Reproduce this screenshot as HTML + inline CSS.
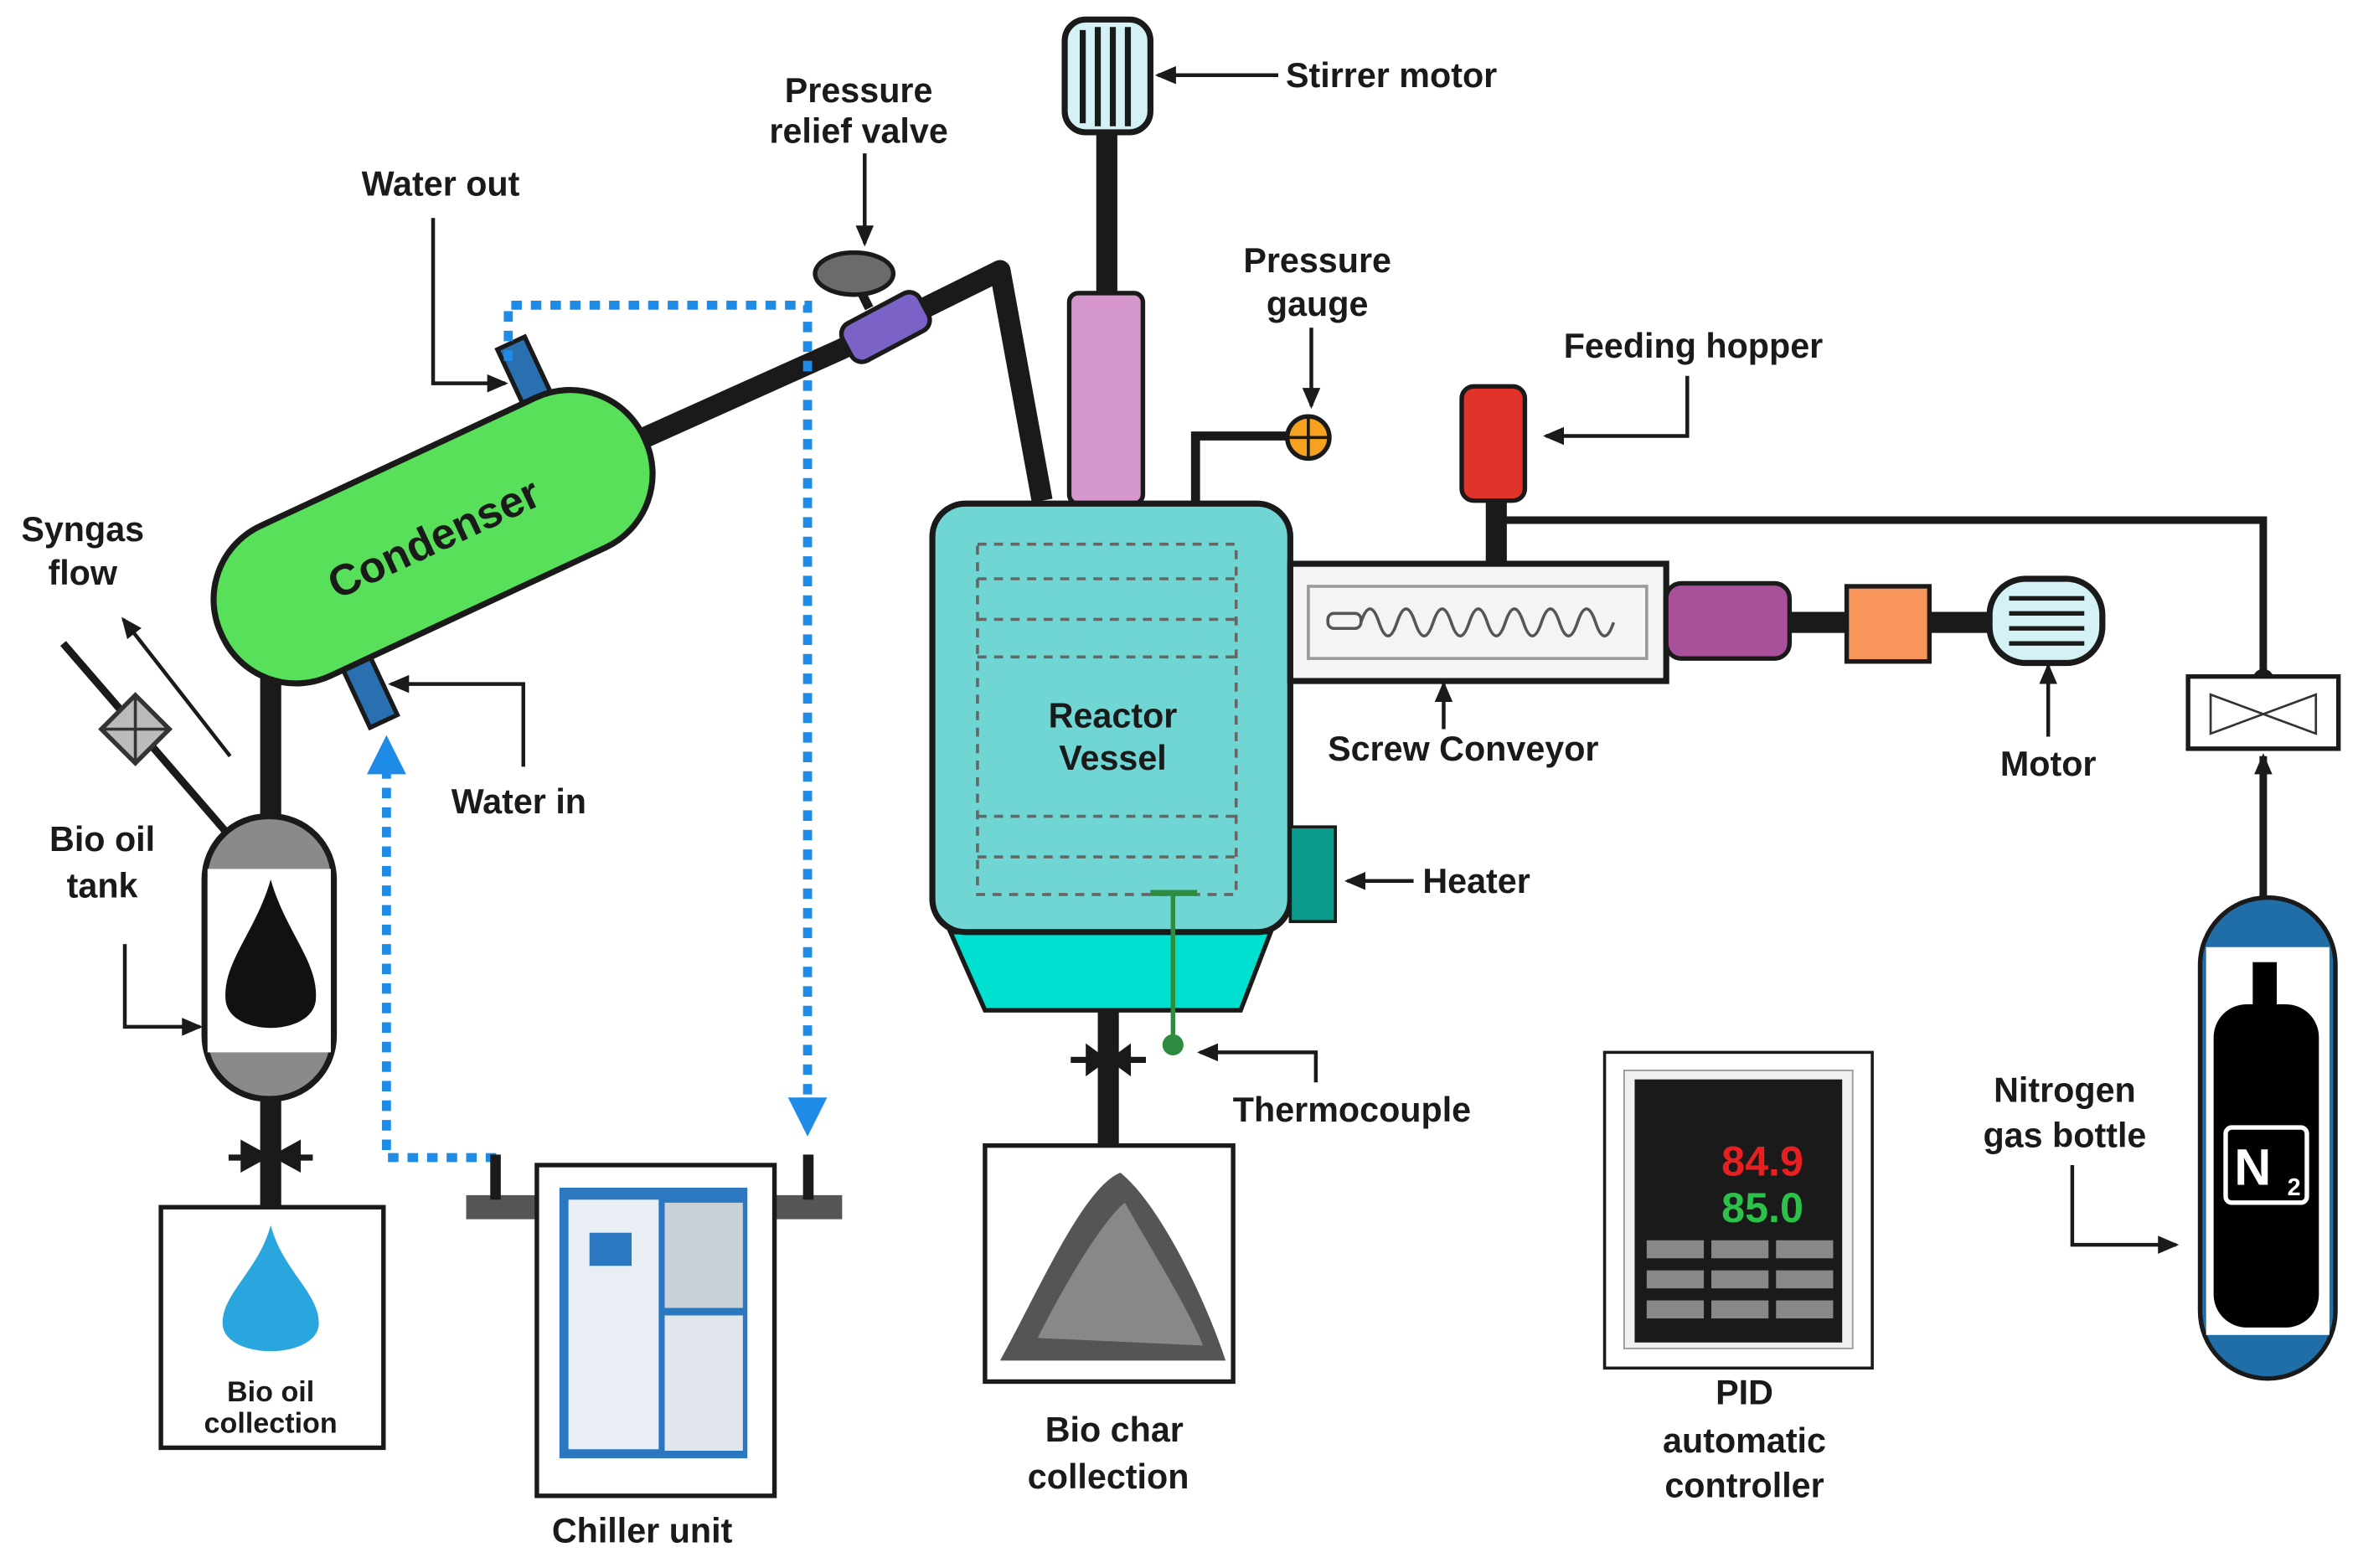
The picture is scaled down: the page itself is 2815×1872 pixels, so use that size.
<!DOCTYPE html>
<html><head><meta charset="utf-8"><style>
html,body{margin:0;padding:0;background:#fff;}
svg{display:block;}
text{font-family:"Liberation Sans",sans-serif;font-weight:bold;fill:#1a1a1a;}
</style></head><body>
<svg width="2815" height="1872" viewBox="0 0 1568 1043" preserveAspectRatio="none" xmlns="http://www.w3.org/2000/svg">
<defs>
<marker id="ah" markerWidth="14" markerHeight="12" refX="12" refY="6" orient="auto" markerUnits="userSpaceOnUse"><path d="M0,0 L14,6 L0,12 Z" fill="#1a1a1a"/></marker>
<marker id="bh" markerWidth="26" markerHeight="26" refX="20" refY="13" orient="auto" markerUnits="userSpaceOnUse"><path d="M0,0 L26,13 L0,26 Z" fill="#1e8ce6"/></marker>
</defs>
<rect width="1568" height="1043" fill="#fff"/>

<!-- pipes -->
<g stroke="#1a1a1a" stroke-width="14" fill="none" stroke-linejoin="round">
<polyline points="420,295 560,232 665,180 693,333"/>
<line x1="736" y1="88" x2="736" y2="197"/>
<line x1="180" y1="440" x2="180" y2="548"/>
<line x1="180" y1="728" x2="180" y2="805"/>
<line x1="737" y1="668" x2="737" y2="764"/>
<line x1="995" y1="332" x2="995" y2="377"/>
<line x1="1190" y1="414" x2="1230" y2="414"/>
<line x1="1283" y1="414" x2="1325" y2="414"/>
</g>
<polyline points="795,334 795,290 858,290" stroke="#1a1a1a" stroke-width="6" fill="none"/>
<polyline points="1000,346 1505,346 1505,452" stroke="#1a1a1a" stroke-width="5" fill="none"/>
<circle cx="1505" cy="452" r="7" fill="#1a1a1a"/>

<!-- stirrer motor -->
<rect x="708" y="13" width="57" height="75" rx="14" fill="#d4f2f6" stroke="#1a1a1a" stroke-width="4"/>
<g stroke="#1a1a1a" stroke-width="4"><line x1="720" y1="20" x2="720" y2="82"/><line x1="730" y1="18" x2="730" y2="84"/><line x1="740" y1="18" x2="740" y2="84"/><line x1="750" y1="18" x2="750" y2="84"/></g>
<rect x="711" y="195" width="49" height="140" rx="6" fill="#d698cc" stroke="#1a1a1a" stroke-width="3"/>

<!-- relief valve -->
<g transform="rotate(-28 588 218)"><rect x="560" y="204" width="58" height="28" rx="8" fill="#7a62c6" stroke="#1a1a1a" stroke-width="3"/></g>
<line x1="568" y1="185" x2="578" y2="205" stroke="#1a1a1a" stroke-width="6"/>
<ellipse cx="568" cy="182" rx="26" ry="14" fill="#6b6b6b" stroke="#1a1a1a" stroke-width="3"/>

<!-- condenser tubes -->
<g transform="rotate(-25 350 250)"><rect x="340" y="226" width="20" height="48" fill="#2a6fb0" stroke="#1a1a1a" stroke-width="3"/></g>
<g transform="rotate(-25 245 458)"><rect x="235" y="434" width="20" height="48" fill="#2a6fb0" stroke="#1a1a1a" stroke-width="3"/></g>
<!-- condenser -->
<g transform="rotate(-25 288 357)">
<rect x="133" y="302" width="310" height="110" rx="54" fill="#58e05a" stroke="#1a1a1a" stroke-width="4"/>
<text x="288" y="368" font-size="29" text-anchor="middle">Condenser</text>
</g>

<!-- coolant dotted -->
<g stroke="#1e8ce6" stroke-width="6" fill="none" stroke-dasharray="7,6">
<polyline points="338,240 338,203 537,203 537,750" marker-end="url(#bh)"/>
<polyline points="330,770 257,770 257,495" marker-end="url(#bh)"/>
</g>

<!-- syngas -->
<line x1="42" y1="428" x2="150" y2="553" stroke="#1a1a1a" stroke-width="5"/>
<g transform="rotate(45 90 485)"><rect x="74" y="469" width="32" height="32" fill="#bbb" stroke="#333" stroke-width="3"/><line x1="74" y1="469" x2="106" y2="501" stroke="#333" stroke-width="2"/><line x1="106" y1="469" x2="74" y2="501" stroke="#333" stroke-width="2"/></g>
<line x1="153" y1="503" x2="82" y2="412" stroke="#1a1a1a" stroke-width="2.5" marker-end="url(#ah)"/>

<!-- bio oil tank -->
<rect x="136" y="543" width="86" height="188" rx="42" fill="#8a8a8a" stroke="#1a1a1a" stroke-width="4"/>
<rect x="138" y="578" width="82" height="122" fill="#fff"/>
<path d="M180,585 C170,620 148,640 150,665 C152,690 208,690 210,665 C212,640 190,620 180,585 Z" fill="#111"/>
<path d="M152,770 L208,770" stroke="#1a1a1a" stroke-width="4"/>
<path d="M160,758 L200,780 L200,758 L160,780 Z" fill="#1a1a1a"/>
<rect x="107" y="803" width="148" height="160" fill="#fff" stroke="#1a1a1a" stroke-width="3"/>
<path d="M180,815 C172,845 148,860 148,880 C148,905 212,905 212,880 C212,860 188,845 180,815 Z" fill="#2aa6de"/>
<text x="180" y="932" font-size="19" font-weight="normal" text-anchor="middle">Bio oil</text>
<text x="180" y="953" font-size="19" font-weight="normal" text-anchor="middle">collection</text>

<!-- chiller -->
<rect x="310" y="795" width="47" height="16" fill="#555"/>
<rect x="515" y="795" width="45" height="16" fill="#555"/>
<rect x="326" y="768" width="7" height="30" fill="#1a1a1a"/><rect x="534" y="768" width="7" height="30" fill="#1a1a1a"/>
<rect x="357" y="775" width="158" height="220" fill="#fff" stroke="#1a1a1a" stroke-width="3"/>
<rect x="372" y="790" width="125" height="180" fill="#2b78c0"/>
<rect x="378" y="798" width="60" height="166" fill="#e8eef4"/>
<rect x="442" y="800" width="52" height="70" fill="#c8d0d8"/>
<rect x="442" y="875" width="52" height="90" fill="#e0e6ec"/>
<rect x="392" y="820" width="28" height="22" fill="#2b78c0"/>

<!-- reactor -->
<polygon points="632,620 845,620 825,672 655,672" fill="#00e0d0" stroke="#1a1a1a" stroke-width="3"/>
<rect x="620" y="335" width="238" height="285" rx="22" fill="#70d6d4" stroke="#1a1a1a" stroke-width="4"/>
<g stroke="#666" stroke-width="2" stroke-dasharray="6,5" fill="none">
<rect x="650" y="362" width="172" height="233"/>
<line x1="650" y1="385" x2="822" y2="385"/><line x1="650" y1="412" x2="822" y2="412"/><line x1="650" y1="437" x2="822" y2="437"/>
<line x1="650" y1="543" x2="822" y2="543"/><line x1="650" y1="570" x2="822" y2="570"/>
</g>
<text x="740" y="484" font-size="23" text-anchor="middle">Reactor</text>
<text x="740" y="512" font-size="23" text-anchor="middle">Vessel</text>
<line x1="765" y1="594" x2="796" y2="594" stroke="#2e8b40" stroke-width="4"/>
<line x1="780" y1="594" x2="780" y2="692" stroke="#2e8b40" stroke-width="3"/>
<circle cx="780" cy="695" r="7" fill="#2e8b40"/>
<rect x="858" y="550" width="30" height="63" fill="#0a9a8c" stroke="#1a1a1a" stroke-width="2"/>
<path d="M712,705 L762,705" stroke="#1a1a1a" stroke-width="4"/>
<path d="M722,694 L752,716 L752,694 L722,716 Z" fill="#1a1a1a"/>
<rect x="655" y="762" width="165" height="157" fill="#fff" stroke="#1a1a1a" stroke-width="3"/>
<path d="M665,905 C690,860 720,790 745,780 C770,800 800,860 815,905 Z" fill="#555"/>
<path d="M690,890 C710,850 735,810 748,800 C765,830 790,870 800,895 Z" fill="#888"/>

<!-- gauge -->
<circle cx="870" cy="291" r="14" fill="#f7a21e" stroke="#1a1a1a" stroke-width="3"/>
<line x1="856" y1="291" x2="884" y2="291" stroke="#1a1a1a" stroke-width="2"/><line x1="870" y1="277" x2="870" y2="305" stroke="#1a1a1a" stroke-width="2"/>

<!-- screw conveyor -->
<rect x="858" y="375" width="250" height="78" fill="#f4f4f4" stroke="#1a1a1a" stroke-width="4"/>
<rect x="870" y="390" width="225" height="48" fill="none" stroke="#999" stroke-width="2"/>
<path d="M905,414 q6,-18 12,0 q6,18 12,0 q6,-18 12,0 q6,18 12,0 q6,-18 12,0 q6,18 12,0 q6,-18 12,0 q6,18 12,0 q6,-18 12,0 q6,18 12,0 q6,-18 12,0 q6,18 12,0 q6,-18 12,0 q6,18 12,0" stroke="#555" stroke-width="2" fill="none"/>
<rect x="883" y="408" width="22" height="10" rx="4" fill="none" stroke="#555" stroke-width="2"/>
<rect x="972" y="257" width="42" height="76" rx="8" fill="#e0332a" stroke="#1a1a1a" stroke-width="3"/>
<rect x="1108" y="388" width="82" height="50" rx="10" fill="#a8519a" stroke="#1a1a1a" stroke-width="3"/>
<rect x="1228" y="390" width="55" height="50" fill="#f7955a" stroke="#1a1a1a" stroke-width="3"/>
<rect x="1323" y="385" width="75" height="56" rx="24" fill="#d4f2f6" stroke="#1a1a1a" stroke-width="4"/>
<g stroke="#1a1a1a" stroke-width="3"><line x1="1336" y1="398" x2="1386" y2="398"/><line x1="1336" y1="408" x2="1386" y2="408"/><line x1="1336" y1="418" x2="1386" y2="418"/><line x1="1336" y1="428" x2="1386" y2="428"/></g>
<rect x="1455" y="450" width="100" height="48" fill="#fff" stroke="#1a1a1a" stroke-width="3"/>
<path d="M1470,462 L1540,488 L1540,462 L1470,488 Z" fill="none" stroke="#333" stroke-width="1.5"/>
<line x1="1505" y1="600" x2="1505" y2="503" stroke="#1a1a1a" stroke-width="5" marker-end="url(#ah)"/>

<!-- N2 bottle -->
<rect x="1463" y="597" width="90" height="320" rx="45" fill="#1f6ea8" stroke="#1a1a1a" stroke-width="3"/>
<rect x="1467" y="630" width="82" height="258" fill="#fff"/>
<rect x="1472" y="668" width="70" height="215" rx="22" fill="#000"/>
<rect x="1498" y="640" width="16" height="30" fill="#000"/>
<rect x="1480" y="750" width="54" height="50" rx="4" fill="none" stroke="#fff" stroke-width="3"/>
<text x="1498" y="788" font-size="34" text-anchor="middle" style="fill:#fff">N</text><text x="1521" y="795" font-size="16" style="fill:#fff">2</text>

<!-- PID -->
<rect x="1067" y="700" width="178" height="210" fill="#fff" stroke="#1a1a1a" stroke-width="2"/>
<rect x="1080" y="712" width="152" height="185" fill="#f0f0f0" stroke="#999"/>
<rect x="1087" y="718" width="138" height="175" fill="#1a1a1a"/>
<text x="1172" y="782" font-size="28" text-anchor="middle" style="fill:#e62020">84.9</text>
<text x="1172" y="813" font-size="28" text-anchor="middle" style="fill:#2cc24a">85.0</text>
<g fill="#888"><rect x="1095" y="825" width="38" height="12"/><rect x="1138" y="825" width="38" height="12"/><rect x="1181" y="825" width="38" height="12"/>
<rect x="1095" y="845" width="38" height="12"/><rect x="1138" y="845" width="38" height="12"/><rect x="1181" y="845" width="38" height="12"/>
<rect x="1095" y="865" width="38" height="12"/><rect x="1138" y="865" width="38" height="12"/><rect x="1181" y="865" width="38" height="12"/></g>

<!-- labels & arrows -->
<g stroke="#1a1a1a" stroke-width="2.5" fill="none">
<line x1="850" y1="50" x2="770" y2="50" marker-end="url(#ah)"/>
<line x1="575" y1="102" x2="575" y2="162" marker-end="url(#ah)"/>
<polyline points="288,145 288,255 336,255" marker-end="url(#ah)"/>
<polyline points="348,510 348,455 260,455" marker-end="url(#ah)"/>
<polyline points="83,628 83,683 133,683" marker-end="url(#ah)"/>
<line x1="872" y1="218" x2="872" y2="270" marker-end="url(#ah)"/>
<polyline points="1122,250 1122,290 1028,290" marker-end="url(#ah)"/>
<line x1="960" y1="485" x2="960" y2="455" marker-end="url(#ah)"/>
<line x1="1362" y1="490" x2="1362" y2="443" marker-end="url(#ah)"/>
<line x1="940" y1="586" x2="896" y2="586" marker-end="url(#ah)"/>
<polyline points="875,720 875,700 798,700" marker-end="url(#ah)"/>
<polyline points="1378,775 1378,828 1447,828" marker-end="url(#ah)"/>
</g>
<g font-size="23">
<text x="855" y="58">Stirrer motor</text>
<text x="571" y="68" text-anchor="middle">Pressure</text>
<text x="571" y="95" text-anchor="middle">relief valve</text>
<text x="293" y="130" text-anchor="middle">Water out</text>
<text x="876" y="181" text-anchor="middle">Pressure</text>
<text x="876" y="210" text-anchor="middle">gauge</text>
<text x="1126" y="238" text-anchor="middle">Feeding hopper</text>
<text x="55" y="360" text-anchor="middle">Syngas</text>
<text x="55" y="389" text-anchor="middle">flow</text>
<text x="973" y="506" text-anchor="middle">Screw Conveyor</text>
<text x="1362" y="516" text-anchor="middle">Motor</text>
<text x="345" y="541" text-anchor="middle">Water in</text>
<text x="68" y="566" text-anchor="middle">Bio oil</text>
<text x="68" y="597" text-anchor="middle">tank</text>
<text x="946" y="594">Heater</text>
<text x="1373" y="733" text-anchor="middle">Nitrogen</text>
<text x="1373" y="763" text-anchor="middle">gas bottle</text>
<text x="899" y="746" text-anchor="middle">Thermocouple</text>
<text x="1160" y="934" text-anchor="middle">PID</text>
<text x="1160" y="966" text-anchor="middle">automatic</text>
<text x="1160" y="996" text-anchor="middle">controller</text>
<text x="741" y="959" text-anchor="middle">Bio char</text>
<text x="737" y="990" text-anchor="middle">collection</text>
<text x="427" y="1026" text-anchor="middle">Chiller unit</text>
</g>
</svg>
</body></html>
